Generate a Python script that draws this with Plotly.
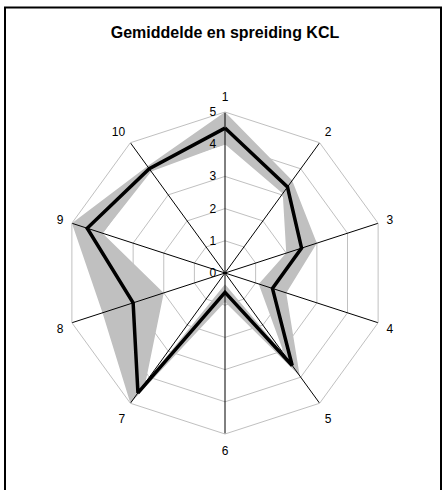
import plotly.graph_objects as go

categories = ["1", "2", "3", "4", "5", "6", "7", "8", "9", "10"]
mean_vals = [4.5, 3.3, 2.5, 1.55, 3.55, 0.6, 4.6, 3.0, 4.5, 4.0]
lower_vals = [4.0, 3.05, 2.0, 1.1, 3.15, 0.35, 4.2, 2.0, 4.0, 3.9]
upper_vals = [5.0, 3.55, 3.0, 2.0, 3.95, 0.9, 5.0, 4.0, 5.0, 4.1]
radial_ticks = [0, 1, 2, 3, 4, 5]
title_text = "Gemiddelde en spreiding KCL"

W, H = 443, 490
cx, cy, R = 225, 273, 161

FONT = "Liberation Sans, Arial, sans-serif"

# ring: outer closed (forward), inner closed (reverse)
ring_theta = categories + [categories[0]] + [categories[0]] + categories[::-1]
ring_r = upper_vals + [upper_vals[0]] + [lower_vals[0]] + lower_vals[::-1]

fig = go.Figure()
fig.add_trace(go.Scatterpolar(
    theta=ring_theta, r=ring_r, mode="lines", fill="toself",
    fillcolor="#c0c0c0", line=dict(width=0, color="#c0c0c0"),
    hoverinfo="skip", showlegend=False,
))
# spokes drawn above the band
for c in categories:
    fig.add_trace(go.Scatterpolar(
        theta=[c, c], r=[0, radial_ticks[-1]], mode="lines",
        line=dict(color="black", width=1), hoverinfo="skip", showlegend=False,
    ))
fig.add_trace(go.Scatterpolar(
    theta=categories + [categories[0]], r=mean_vals + [mean_vals[0]],
    mode="lines", line=dict(color="black", width=3.5),
    showlegend=False,
))

fig.update_layout(
    width=W, height=H,
    margin=dict(l=0, r=0, t=0, b=0),
    paper_bgcolor="white", plot_bgcolor="white",
    font=dict(family=FONT, size=12, color="black"),
    title=dict(text="<b>" + title_text + "</b>", x=cx / W, xanchor="center",
               y=1 - 32 / H, yanchor="middle",
               font=dict(family=FONT, size=16, color="black")),
    polar=dict(
        domain=dict(x=[(cx - R) / W, (cx + R) / W],
                    y=[(H - cy - R) / H, (H - cy + R) / H]),
        bgcolor="white",
        gridshape="linear",
        angularaxis=dict(
            type="category", categoryarray=categories, direction="clockwise",
            rotation=90, showgrid=False, showline=True, linecolor="#c0c0c0",
            linewidth=1, ticks="outside", ticklen=6, tickcolor="rgba(0,0,0,0)",
            tickfont=dict(size=12, family=FONT, color="black"),
        ),
        radialaxis=dict(
            range=[0, 5], tickvals=radial_ticks, angle=90, tickangle=90,
            showline=False, gridcolor="#c0c0c0", gridwidth=1,
            ticks="outside", ticklen=4, tickcolor="rgba(0,0,0,0)",
            side="counterclockwise",
            tickfont=dict(size=12, family=FONT, color="black"),
        ),
    ),
    shapes=[dict(type="rect", xref="paper", yref="paper",
                 x0=5 / W, x1=441 / W, y0=-0.05, y1=1 - 7.5 / H,
                 line=dict(color="black", width=2), fillcolor="rgba(0,0,0,0)")],
)

fig.write_html("out.html", config={"displayModeBar": False},
               post_script="document.body.style.margin='0';")
